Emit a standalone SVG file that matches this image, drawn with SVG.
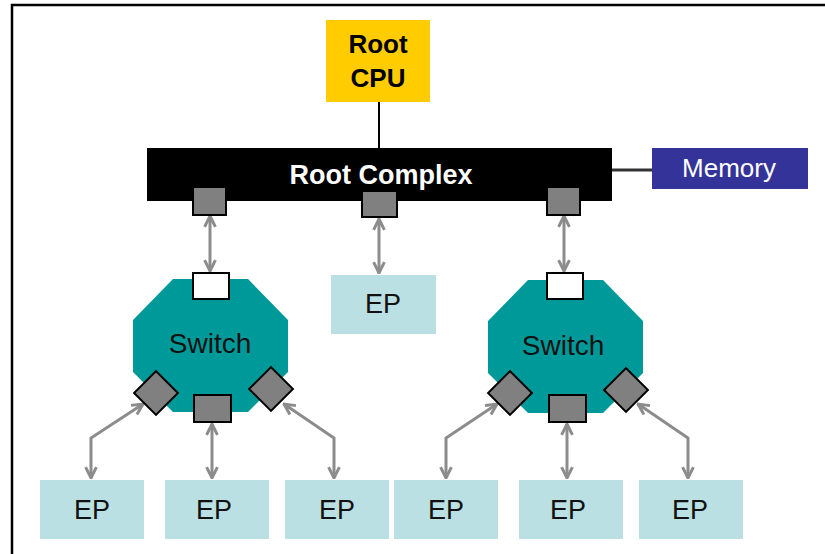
<svg xmlns="http://www.w3.org/2000/svg" width="825" height="554" viewBox="0 0 825 554">
<style>
.txt{font-family:"Liberation Sans",Arial,sans-serif;text-anchor:middle}
.b{font-weight:bold}
.port{fill:#808080;stroke:#000;stroke-width:2}
.wport{fill:#fff;stroke:#000;stroke-width:2}
.sw{fill:#009999}
.ep{fill:#bbe0e3}
.arr{fill:none;stroke:#8c8c8c;stroke-width:3;marker-start:url(#ah);marker-end:url(#ah)}
</style>
<defs>
<marker id="ah" viewBox="0 0 10 10" refX="9" refY="5" markerWidth="4.5" markerHeight="4.5" orient="auto-start-reverse" markerUnits="strokeWidth">
<path d="M1,1 L9,5 L1,9" fill="none" stroke="#8c8c8c" stroke-width="2.2"/>
</marker>
</defs>
<rect width="825" height="554" fill="#fff"/>
<path d="M12,554 V5 H825" fill="none" stroke="#000" stroke-width="2.5"/>

<g id="connectors">
<line x1="379" y1="102" x2="379" y2="148" stroke="#000" stroke-width="2"/>
<line x1="612" y1="170" x2="652" y2="170" stroke="#333" stroke-width="3"/>
<path class="arr" d="M210,216 V271"/>
<path class="arr" d="M379,219 V273"/>
<path class="arr" d="M564,216 V271"/>
<path class="arr" d="M143,404 L91,438 V478"/>
<path class="arr" d="M212,424 V478"/>
<path class="arr" d="M284,404 L334,438 V478"/>
<path class="arr" d="M497,404 L446,438 V478"/>
<path class="arr" d="M567,424 V478"/>
<path class="arr" d="M638,404 L688,438 V478"/>
</g>

<g id="root-cpu">
<rect x="326" y="20" width="104" height="82" fill="#ffcc00"/>
<text class="txt b" x="378" y="53" font-size="26">Root</text>
<text class="txt b" x="378" y="87" font-size="26">CPU</text>
</g>

<g id="root-complex">
<rect x="147" y="148" width="465" height="53" fill="#000"/>
<text class="txt b" x="381" y="184" font-size="27" fill="#fff">Root Complex</text>
<rect class="port" x="193" y="187" width="33" height="28"/>
<rect class="port" x="362" y="191" width="35" height="26"/>
<rect class="port" x="547" y="187" width="33" height="28"/>
</g>

<g id="memory">
<rect x="652" y="148" width="156" height="41" fill="#333399"/>
<text class="txt" x="729" y="177" font-size="26" fill="#fff">Memory</text>
</g>

<g id="ep-mid">
<rect class="ep" x="331" y="275" width="105" height="59"/>
<text class="txt" x="383" y="313" font-size="27" fill="#111">EP</text>
</g>

<g id="switch-left">
<polygon class="sw" points="173,279 248,279 288,320 288,372 248,412 173,412 133,372 133,320"/>
<text class="txt" x="210" y="353" font-size="28" fill="#111">Switch</text>
<rect class="wport" x="193" y="273" width="36" height="26"/>
<rect class="port" x="194" y="395" width="37" height="27"/>
<rect class="port" x="-15.5" y="-15.5" width="31" height="31" transform="translate(156,393) rotate(45)"/>
<rect class="port" x="-15.5" y="-15.5" width="31" height="31" transform="translate(271,389) rotate(45)"/>
</g>

<g id="switch-right">
<polygon class="sw" points="528,280 603,280 643,321 643,373 603,413 528,413 488,373 488,321"/>
<text class="txt" x="563" y="355" font-size="28" fill="#111">Switch</text>
<rect class="wport" x="547" y="273" width="36" height="26"/>
<rect class="port" x="549" y="395" width="37" height="27"/>
<rect class="port" x="-15.5" y="-15.5" width="31" height="31" transform="translate(510,393) rotate(45)"/>
<rect class="port" x="-15.5" y="-15.5" width="31" height="31" transform="translate(626,390) rotate(45)"/>
</g>

<g id="ep1"><rect class="ep" x="40" y="480" width="104" height="59"/><text class="txt" x="92" y="519" font-size="27" fill="#111">EP</text></g>
<g id="ep2"><rect class="ep" x="165" y="480" width="104" height="59"/><text class="txt" x="214" y="519" font-size="27" fill="#111">EP</text></g>
<g id="ep3"><rect class="ep" x="285" y="480" width="104" height="59"/><text class="txt" x="337" y="519" font-size="27" fill="#111">EP</text></g>
<g id="ep4"><rect class="ep" x="394" y="480" width="104" height="59"/><text class="txt" x="446" y="519" font-size="27" fill="#111">EP</text></g>
<g id="ep5"><rect class="ep" x="519" y="480" width="104" height="59"/><text class="txt" x="568" y="519" font-size="27" fill="#111">EP</text></g>
<g id="ep6"><rect class="ep" x="639" y="480" width="104" height="59"/><text class="txt" x="690" y="519" font-size="27" fill="#111">EP</text></g>
</svg>
